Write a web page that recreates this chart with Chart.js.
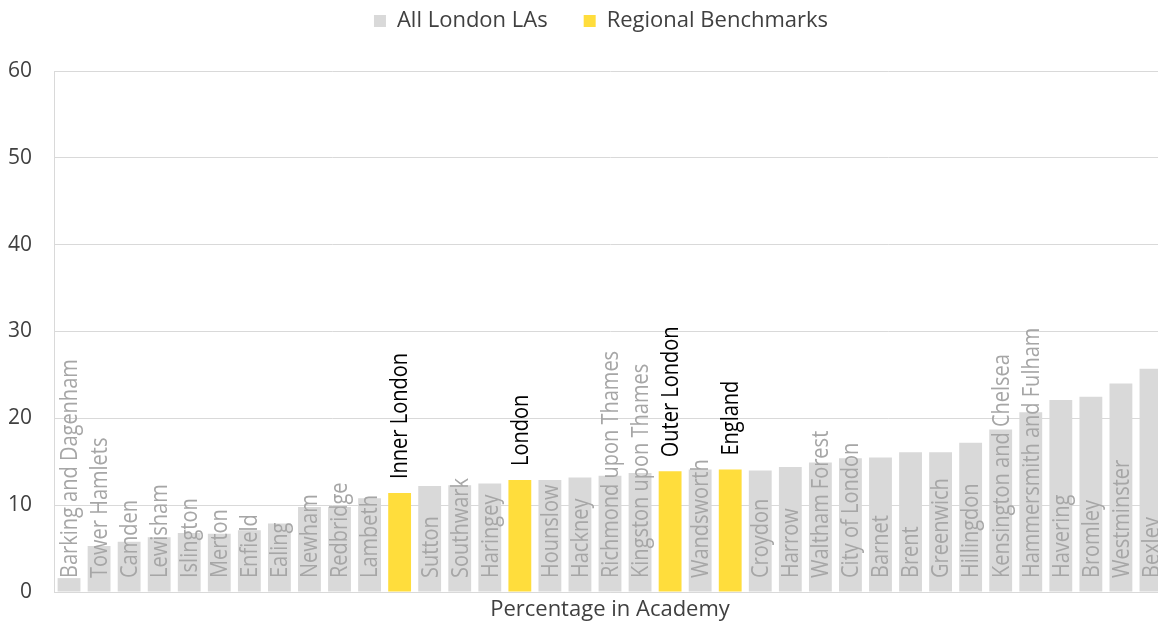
<!DOCTYPE html>
<html>
<head>
<meta charset="utf-8">
<script src="https://cdn.jsdelivr.net/npm/chart.js@4"></script>
<style>
  html, body { margin: 0; padding: 0; overflow: hidden; background: #fff; }
  #wrap { width: 1166px; height: 623px; position: relative; }
</style>
</head>
<body>
<div id="wrap"><canvas id="academyChart"></canvas></div>
<script>
// Local authorities and regional benchmarks, sorted by percentage in academy
const areas = [
    'Barking and Dagenham', 'Tower Hamlets', 'Camden', 'Lewisham', 'Islington',
    'Merton', 'Enfield', 'Ealing', 'Newham', 'Redbridge', 'Lambeth',
    'Inner London', 'Sutton', 'Southwark', 'Haringey', 'London', 'Hounslow',
    'Hackney', 'Richmond upon Thames', 'Kingston upon Thames', 'Outer London',
    'Wandsworth', 'England', 'Croydon', 'Harrow', 'Waltham Forest',
    'City of London', 'Barnet', 'Brent', 'Greenwich', 'Hillingdon',
    'Kensington and Chelsea', 'Hammersmith and Fulham', 'Havering', 'Bromley',
    'Westminster', 'Bexley'
];
const percentInAcademy = [
    1.6, 5.3, 5.8, 6.3, 6.8,
    6.7, 7.1, 7.9, 9.8, 9.8, 10.8,
    11.4, 12.2, 12.3, 12.5, 12.9, 12.9,
    13.2, 13.4, 13.7, 13.9,
    14.1, 14.1, 14.0, 14.4, 14.9,
    15.4, 15.5, 16.1, 16.1, 17.2,
    18.7, 20.7, 22.1, 22.5,
    24.0, 25.7
];
const benchmarks = ['Inner London', 'London', 'Outer London', 'England'];
const yTicks = [0, 10, 20, 30, 40, 50, 60];

const greyBar = '#d9d9d9';
const yellowBar = '#ffdd3c';
const font = "'Open Sans', 'Noto Sans', sans-serif";

const isBench = areas.map(a => benchmarks.includes(a));
const laData = percentInAcademy.map((v, i) => isBench[i] ? null : v);
const benchData = percentInAcademy.map((v, i) => isBench[i] ? v : null);

// draws the rotated area names above the baseline / above benchmark bars
const barLabels = {
    id: 'barLabels',
    afterDatasetsDraw(chart) {
        const ctx = chart.ctx;
        const yScale = chart.scales.y;
        const base = yScale.getPixelForValue(0);
        ctx.save();
        ctx.font = '20px ' + font;
        ctx.textAlign = 'left';
        ctx.textBaseline = 'middle';
        areas.forEach((name, i) => {
            const dsIndex = isBench[i] ? 1 : 0;
            const bar = chart.getDatasetMeta(dsIndex).data[i];
            if (!bar) return;
            const startY = isBench[i] ? bar.y - 14 : base - 14;
            ctx.save();
            ctx.translate(bar.x + 1, startY);
            ctx.rotate(-Math.PI / 2);
            ctx.scale(1, 1.2);
            ctx.fillStyle = isBench[i] ? '#000000' : '#a6a6a6';
            ctx.fillText(name, 0, 0);
            ctx.restore();
        });
        ctx.restore();
    }
};

// move the legend up and a little right, like the original
const legendShift = {
    id: 'legendShift',
    afterLayout(chart) {
        const lg = chart.legend;
        lg.left += 18;
        lg.right += 18;
        lg.top -= 29;
        lg.bottom -= 29;
    }
};

const ctx = document.getElementById('academyChart').getContext('2d');
new Chart(ctx, {
    type: 'bar',
    data: {
        labels: areas,
        datasets: [{
            label: 'All London LAs',
            data: laData,
            backgroundColor: greyBar,
            grouped: false,
            categoryPercentage: 1,
            barPercentage: 0.76
        }, {
            label: 'Regional Benchmarks',
            data: benchData,
            backgroundColor: yellowBar,
            grouped: false,
            categoryPercentage: 1,
            barPercentage: 0.76
        }]
    },
    options: {
        responsive: true,
        maintainAspectRatio: false,
        animation: false,
        layout: { padding: { top: 3, right: 0, bottom: 0, left: 0 } },
        scales: {
            x: {
                grid: { display: false, drawTicks: false },
                border: { display: true, color: '#d9d9d9' },
                ticks: { display: false },
                title: {
                    display: true,
                    text: 'Percentage in Academy',
                    color: '#404040',
                    font: { family: font, size: 22 },
                    padding: { top: 4.6, bottom: 0 }
                }
            },
            y: {
                min: yTicks[0],
                max: yTicks[yTicks.length - 1],
                afterBuildTicks: scale => { scale.ticks = yTicks.map(v => ({ value: v })); },
                afterFit: scale => {
                    scale.width = 54;
                    // tick padding should not push the plot area in from top/bottom
                    scale.paddingTop = 0;
                    scale.paddingBottom = 0;
                },
                grid: { color: '#d9d9d9', drawTicks: false },
                border: { display: true, color: '#d9d9d9' },
                ticks: {
                    color: '#404040',
                    padding: 22,
                    font: { family: font, size: 21 }
                }
            }
        },
        plugins: {
            legend: {
                position: 'top',
                labels: {
                    boxWidth: 12,
                    boxHeight: 12,
                    padding: 36,
                    color: '#404040',
                    font: { family: font, size: 22 }
                }
            },
            tooltip: { enabled: false }
        }
    },
    plugins: [barLabels, legendShift]
});
</script>
</body>
</html>
